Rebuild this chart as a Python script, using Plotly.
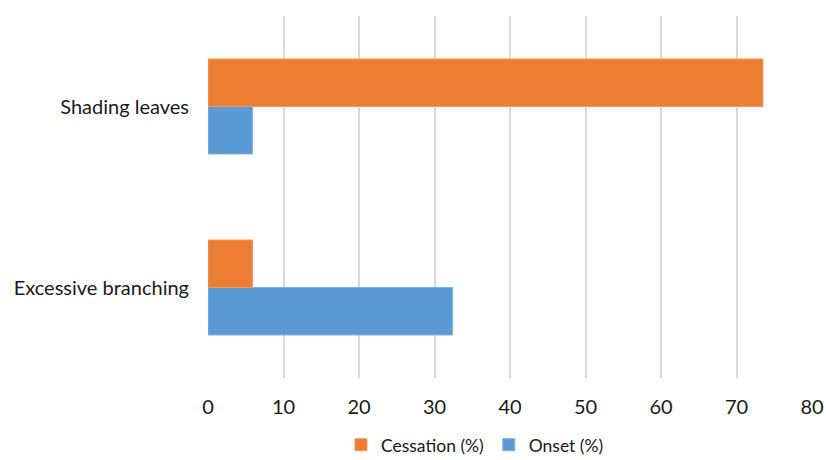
import plotly.graph_objects as go

categories = ["Excessive branching", "Shading leaves"]
onset = [32.4, 5.9]
cessation = [5.9, 73.5]
x_ticks = [0, 10, 20, 30, 40, 50, 60, 70, 80]

FONT = "Lato"

fig = go.Figure()
fig.add_trace(go.Bar(
    y=categories, x=onset, name="Onset (%)", orientation="h",
    marker=dict(color="#5B9BD5", line=dict(color="#7FB2E0", width=1)),
))
fig.add_trace(go.Bar(
    y=categories, x=cessation, name="Cessation (%)", orientation="h",
    marker=dict(color="#ED7D31", line=dict(color="#F29A5E", width=1)),
))

fig.update_layout(
    width=826, height=460,
    margin=dict(l=208, r=14, t=16, b=82, autoexpand=False),
    paper_bgcolor="white", plot_bgcolor="white",
    barmode="group", bargap=0.475, bargroupgap=0,
    font=dict(family=FONT, size=20, color="#1a1a1a"),
    legend=dict(
        orientation="h", traceorder="reversed",
        xref="container", yref="container",
        x=0.575, xanchor="center", y=0.033, yanchor="middle",
        font=dict(size=17.5), itemwidth=30,
    ),
    showlegend=True,
)
fig.update_xaxes(
    range=[0, 80], tickvals=x_ticks, ticktext=[str(v) for v in x_ticks],
    showgrid=True, gridcolor="#d9d9d9", gridwidth=2,
    zeroline=False, showline=False, automargin=False,
    ticks="outside", ticklen=11, tickcolor="rgba(0,0,0,0)",
    tickfont=dict(size=20),
)
fig.update_yaxes(
    showgrid=False, zeroline=False, showline=False, automargin=False,
    ticks="outside", ticklen=14, tickcolor="rgba(0,0,0,0)",
    tickfont=dict(size=20),
)

fig.write_html("out.html")
